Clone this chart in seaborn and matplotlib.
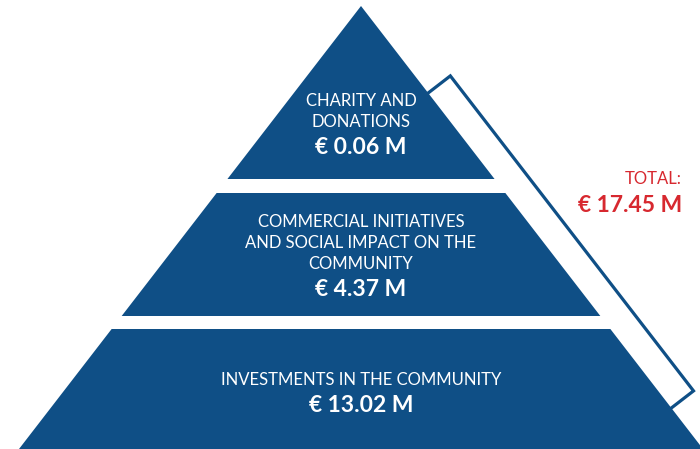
import numpy as np
import matplotlib
matplotlib.use("Agg")
import matplotlib.pyplot as plt
import seaborn as sns
from matplotlib.patches import Polygon

# data
tier_labels = [
    "CHARITY AND\nDONATIONS",
    "COMMERCIAL INITIATIVES\nAND SOCIAL IMPACT ON THE\nCOMMUNITY",
    "INVESTMENTS IN THE COMMUNITY",
]
tier_values = [0.06, 4.37, 13.02]
total_label = "TOTAL:"
total_value = 17.45

# layout (pixel-like units, y grows downwards)
W, H = 700, 449
apex_x, apex_y = 361, 6
slope = 0.772                     # horizontal growth per unit of height
bands = [(6, 179), (193, 316), (329, 470)]
value_y = [148, 290, 406]
blue = "#0f4f86"
red = "#d7282f"

sns.set_theme(style="white")
plt.rcParams["font.family"] = ["Lato", "DejaVu Sans"]

fig = plt.figure(figsize=(W / 100, H / 100), dpi=100)
ax = fig.add_axes([0, 0, 1, 1])
ax.set_xlim(0, W)
ax.set_ylim(H, 0)
ax.axis("off")


def half_width(y):
    return slope * (y - apex_y)


# pyramid tiers
for (y0, y1), lab, val, vy in zip(bands, tier_labels, tier_values, value_y):
    pts = [
        (apex_x - half_width(y0), y0),
        (apex_x + half_width(y0), y0),
        (apex_x + half_width(y1), y1),
        (apex_x - half_width(y1), y1),
    ]
    ax.add_patch(Polygon(pts, closed=True, facecolor=blue, edgecolor="none"))
    ax.text(apex_x, vy, f"€ {val:.2f} M", ha="center", va="center",
            color="white", fontsize=16.5, fontweight="bold")
    ax.text(apex_x, vy - 18, lab, ha="center", va="bottom", color="white",
            fontsize=12, fontweight="normal", linespacing=1.38)

# bracket along the right edge
d = 28
edge = np.array([slope, 1.0])
edge = edge / np.linalg.norm(edge)
normal = np.array([edge[1], -edge[0]])
ya, yb = 93, 408
pa = np.array([apex_x + half_width(ya), ya])
pb = np.array([apex_x + half_width(yb), yb])
br = np.array([pa, pa + d * normal, pb + d * normal, pb])
ax.plot(br[:, 0], br[:, 1], color=blue, lw=2.3, solid_joinstyle="miter")

# total
ax.text(682, 179, total_label, ha="right", va="center", color=red,
        fontsize=12, fontweight="normal")
ax.text(682, 206, f"€ {total_value:.2f} M", ha="right", va="center",
        color=red, fontsize=16.5, fontweight="bold")

fig.savefig("out.png", dpi=100)
